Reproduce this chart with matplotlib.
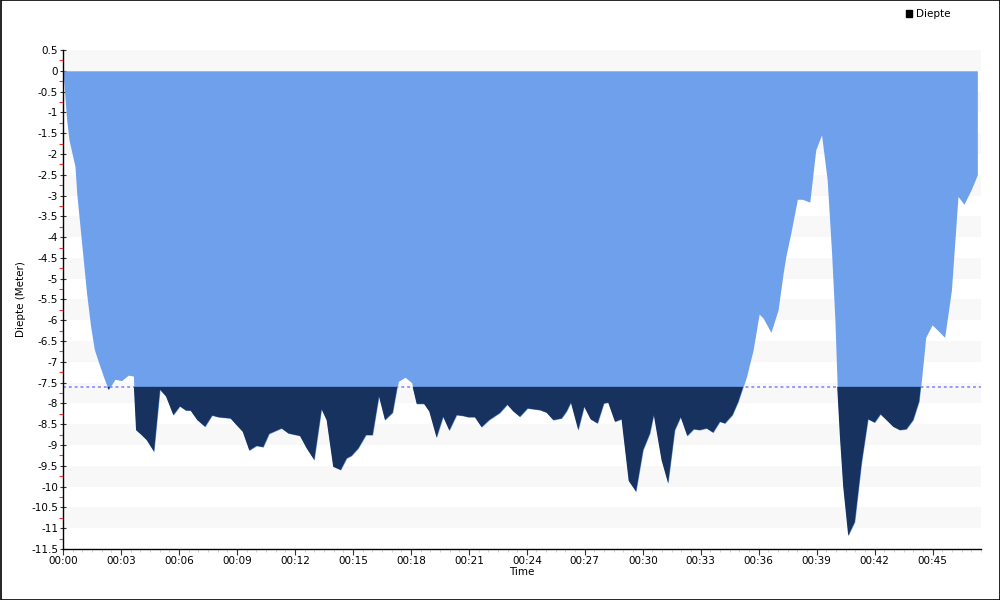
import matplotlib
matplotlib.use("Agg")

import numpy as np
import matplotlib.pyplot as plt
from matplotlib.ticker import MultipleLocator, FuncFormatter
from matplotlib.patches import Rectangle

plt.rcParams["axes.unicode_minus"] = False
plt.rcParams["font.family"] = "DejaVu Sans"

# dive profile: time in minutes, depth in meters
minutes = [
    0.0, 0.19, 0.31, 0.62, 0.71, 0.88, 1.05, 1.22, 1.43, 1.62, 1.83, 2.09, 2.35,
    2.69, 3.03, 3.38, 3.64, 3.78, 4.07, 4.33, 4.71, 5.02, 5.33, 5.71, 6.05, 6.36,
    6.6, 6.95, 7.35, 7.72, 8.04, 8.67, 8.98, 9.3, 9.64, 10.02, 10.36, 10.67,
    11.31, 11.66, 12.26, 12.61, 13.0, 13.38, 13.64, 13.98, 14.37, 14.68, 14.93,
    15.28, 15.68, 16.02, 16.35, 16.66, 17.06, 17.35, 17.7, 18.04, 18.3, 18.68,
    18.95, 19.33, 19.67, 19.99, 20.37, 20.71, 20.97, 21.31, 21.66, 22.05, 22.6,
    22.99, 23.3, 23.64, 24.04, 24.68, 25.02, 25.37, 25.8, 26.06, 26.28, 26.66,
    26.97, 27.3, 27.66, 27.99, 28.21, 28.56, 28.9, 29.27, 29.65, 30.02, 30.37,
    30.57, 30.97, 31.31, 31.66, 31.96, 32.3, 32.64, 32.95, 33.3, 33.64, 33.99,
    34.25, 34.64, 34.94, 35.23, 35.37, 35.71, 36.02, 36.23, 36.63, 37.0, 37.26,
    37.4, 37.66, 38.0, 38.26, 38.64, 38.95, 39.25, 39.54, 39.77, 39.94, 40.06,
    40.2, 40.37, 40.63, 40.97, 41.32, 41.66, 42.0, 42.3, 42.61, 42.96, 43.3,
    43.64, 43.99, 44.3, 44.42, 44.64, 44.97, 45.28, 45.62, 45.97, 46.31, 46.62,
    47.0, 47.31,
]
depth = [
    0.0, -1.18, -1.66, -2.3, -2.94, -3.75, -4.55, -5.35, -6.15, -6.7, -7.0,
    -7.35, -7.67, -7.42, -7.45, -7.32, -7.34, -8.64, -8.76, -8.88, -9.16, -7.67,
    -7.83, -8.28, -8.07, -8.17, -8.17, -8.4, -8.56, -8.29, -8.33, -8.36, -8.52,
    -8.68, -9.13, -9.02, -9.05, -8.73, -8.6, -8.72, -8.78, -9.08, -9.36, -8.14,
    -8.4, -9.52, -9.6, -9.32, -9.26, -9.08, -8.76, -8.76, -7.83, -8.4, -8.22,
    -7.47, -7.37, -7.5, -8.01, -8.01, -8.19, -8.82, -8.32, -8.65, -8.28, -8.3,
    -8.33, -8.33, -8.57, -8.4, -8.23, -8.03, -8.19, -8.32, -8.12, -8.16, -8.22,
    -8.4, -8.36, -8.19, -7.98, -8.64, -8.08, -8.38, -8.48, -8.0, -7.98, -8.44,
    -8.38, -9.86, -10.12, -9.12, -8.72, -8.28, -9.36, -9.92, -8.64, -8.33,
    -8.78, -8.62, -8.64, -8.6, -8.7, -8.44, -8.48, -8.28, -7.96, -7.55, -7.35,
    -6.71, -5.85, -5.95, -6.29, -5.75, -4.87, -4.47, -3.9, -3.09, -3.09, -3.16,
    -1.9, -1.54, -2.62, -4.39, -5.99, -7.6, -8.8, -10.0, -11.18, -10.85, -9.44,
    -8.38, -8.46, -8.26, -8.4, -8.56, -8.64, -8.62, -8.4, -7.95, -7.43, -6.41,
    -6.11, -6.25, -6.41, -5.27, -3.02, -3.21, -2.85, -2.5,
]
threshold = -7.6
series_name = "Diepte"

t = np.array(minutes)
d = np.array(depth)

fig = plt.figure(figsize=(10, 6), dpi=100)
ax = fig.add_axes([0.063, 0.085, 0.918, 0.8317])

# alternating background bands
for k in range(-1, 11):
    ax.axhspan(-(k + 1), -(k + 0.5), color="#f8f8f8", zorder=0, lw=0)

ax.axhline(threshold, color="#9999ff", lw=1.4, ls=(0, (1.5, 1.5)), zorder=1)

ax.fill_between(t, 0, d, color="#6fa0ec", lw=0, zorder=2)
ax.fill_between(t, threshold, d, where=d < threshold, interpolate=True,
                color="#17325f", lw=0, zorder=3)

ax.set_xlim(0, 47.5)
ax.set_ylim(-11.5, 0.5)

ax.yaxis.set_major_locator(MultipleLocator(0.5))
ax.yaxis.set_minor_locator(MultipleLocator(0.25))
ax.yaxis.set_major_formatter(FuncFormatter(lambda v, p: f"{v:g}"))
ax.xaxis.set_major_locator(MultipleLocator(3))
ax.xaxis.set_minor_locator(MultipleLocator(0.5))
ax.xaxis.set_major_formatter(FuncFormatter(lambda v, p: f"00:{int(round(v)):02d}"))

ax.tick_params(axis="y", which="major", direction="inout", length=5, width=0.8,
               color="#333333", labelsize=7.5, pad=1)
ax.tick_params(axis="y", which="minor", direction="out", length=3, width=0.8,
               color="#ff3333")
ax.tick_params(axis="x", which="major", direction="out", length=4, width=0.8,
               color="#333333", labelsize=7.5, pad=1)
ax.tick_params(axis="x", which="minor", direction="out", length=2, width=0.6,
               color="#cccccc")

for s in ["top", "right"]:
    ax.spines[s].set_visible(False)
for s in ["left", "bottom"]:
    ax.spines[s].set_linewidth(1.0)
    ax.spines[s].set_color("black")

ax.set_xlabel("Time", fontsize=7.5, labelpad=0.5)
ax.set_ylabel("Diepte (Meter)", fontsize=7.5, labelpad=4)

ax.legend(handles=[Rectangle((0, 0), 1, 1, color="black")], labels=[series_name],
          loc="upper left", bbox_to_anchor=(0.902, 0.992), bbox_transform=fig.transFigure,
          frameon=False, fontsize=7.5, handlelength=0.6, handleheight=0.6,
          handletextpad=0.3, borderaxespad=0)

fig.patches.append(Rectangle((0.0005, 0.0008), 0.999, 0.9985, transform=fig.transFigure,
                             fill=False, edgecolor="black", lw=1.2))

fig.savefig("out.png", dpi=100)
plt.close(fig)
